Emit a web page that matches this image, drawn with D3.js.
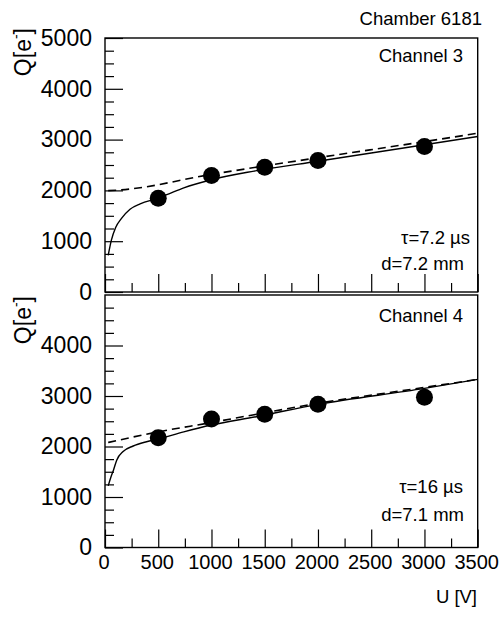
<!DOCTYPE html>
<html>
<head>
<meta charset="utf-8">
<script src="https://cdn.jsdelivr.net/npm/d3@7"></script>
<style>
  body { margin: 0; background: #fff; }
  text { font-family: "Liberation Sans", Arial, sans-serif; fill: #000; }
</style>
</head>
<body>
<script>
// Chart size
const width = 500;
const height = 620;

// Measured points (U in V, Q in electrons)
var voltage = [500, 1000, 1500, 2000, 3000];
var ch3Charge = [1846, 2292, 2457, 2587, 2863];
var ch4Charge = [2175, 2545, 2637, 2835, 2974];

// Solid curves
var ch3SolidU = [30, 60, 100, 155, 235, 330, 500, 580, 740, 1000, 1400, 2000, 2500, 3000, 3500];
var ch3SolidQ = [720, 1020, 1270, 1450, 1630, 1735, 1850, 1915, 2050, 2210, 2380, 2575, 2737, 2898, 3060];
var ch4SolidU = [30, 55, 80, 110, 170, 265, 390, 500, 740, 1000, 1420, 2000, 3000, 3500];
var ch4SolidQ = [1220, 1390, 1535, 1730, 1900, 2010, 2095, 2150, 2290, 2425, 2590, 2835, 3150, 3330];

// Dashed lines
var ch3DashU = [30, 150, 1000, 2000, 3000, 3500];
var ch3DashQ = [1995, 2010, 2315, 2644, 2960, 3125];
var ch4DashU = [30, 500, 1000, 1400, 2000, 3000, 3500];
var ch4DashQ = [2080, 2290, 2475, 2630, 2855, 3170, 3330];

// Ticks
var xMajor = [0, 500, 1000, 1500, 2000, 2500, 3000, 3500];
var xMinor = [250, 750, 1250, 1750, 2250, 2750, 3250];
var yMajorTop = [0, 1000, 2000, 3000, 4000, 5000];
var yMajorBottom = [0, 1000, 2000, 3000, 4000];
var yMinor = d3.range(250, 5000, 250).filter(d => d % 1000 !== 0);

var svg = d3.select("body")
    .append("svg")
    .attr("width", width)
    .attr("height", height);

// Scales
var x = d3.scaleLinear().domain([0, 3500]).range([105, 477.7]);
var yTop = d3.scaleLinear().domain([0, 5000]).range([292, 38]);
var yBottom = d3.scaleLinear().domain([0, 5000]).range([547.5, 295]);

function panel(y, yMajor, showXLabels, pts, solidU, solidQ, dashU, dashQ) {
    var g = svg.append("g");

    // y axis, ticks pointing inside
    g.append("g")
        .attr("transform", `translate(${x(0)}, 0)`)
        .call(d3.axisLeft(y).tickValues(yMinor).tickSize(-9).tickFormat(""))
        .call(a => a.select(".domain").remove());
    g.append("g")
        .attr("transform", `translate(${x(0)}, 0)`)
        .call(d3.axisLeft(y).tickValues(yMajor).tickSize(-18).tickPadding(13).tickFormat(d3.format("d")))
        .call(a => a.select(".domain").remove())
        .call(a => a.selectAll("text").attr("font-size", 23).attr("font-family", "Liberation Sans, Arial, sans-serif"));

    // x axis at the bottom, ticks pointing up
    var y0 = y(0);
    g.append("g")
        .attr("transform", `translate(0, ${y0})`)
        .call(d3.axisBottom(x).tickValues(xMinor).tickSize(-9).tickFormat(""))
        .call(a => a.select(".domain").remove());
    g.append("g")
        .attr("transform", `translate(0, ${y0})`)
        .call(d3.axisBottom(x).tickValues(xMajor).tickSize(-18).tickPadding(7)
            .tickFormat(showXLabels ? d3.format("d") : ""))
        .call(a => a.select(".domain").remove())
        .call(a => a.selectAll("text").attr("font-size", 20).attr("dx", -1.5)
            .attr("font-family", "Liberation Sans, Arial, sans-serif"));

    g.selectAll(".tick line").attr("stroke", "#000").attr("stroke-width", 1.2);

    // frame
    g.append("rect")
        .attr("x", x(0))
        .attr("y", y(5000))
        .attr("width", x(3500) - x(0))
        .attr("height", y(0) - y(5000))
        .attr("fill", "none")
        .attr("stroke", "#000")
        .attr("stroke-width", 1.4);

    var line = d3.line()
        .x(d => x(d[0]))
        .y(d => y(d[1]))
        .curve(d3.curveMonotoneX);

    g.append("path")
        .datum(dashU.map((u, i) => [u, dashQ[i]]))
        .attr("d", line)
        .attr("fill", "none")
        .attr("stroke", "#000")
        .attr("stroke-width", 1.6)
        .attr("stroke-dasharray", "8,5");

    g.append("path")
        .datum(solidU.map((u, i) => [u, solidQ[i]]))
        .attr("d", line)
        .attr("fill", "none")
        .attr("stroke", "#000")
        .attr("stroke-width", 1.4);

    g.selectAll("circle")
        .data(voltage.map((u, i) => [u, pts[i]]))
        .enter()
        .append("circle")
        .attr("cx", d => x(d[0]))
        .attr("cy", d => y(d[1]))
        .attr("r", 8.5)
        .attr("fill", "#000");

    return g;
}

panel(yTop, yMajorTop, false, ch3Charge, ch3SolidU, ch3SolidQ, ch3DashU, ch3DashQ);
panel(yBottom, yMajorBottom, true, ch4Charge, ch4SolidU, ch4SolidQ, ch4DashU, ch4DashQ);

// Y axis titles
function yTitle(yEnd) {
    var t = svg.append("text")
        .attr("transform", `translate(31, ${yEnd}) rotate(-90)`)
        .attr("text-anchor", "end")
        .attr("font-size", 23);
    t.append("tspan").text("Q[e");
    t.append("tspan").attr("font-size", 14).attr("dy", -10).text("-");
    t.append("tspan").attr("dy", 10).text("]");
}
yTitle(28);
yTitle(296);

// Labels
function label(txt, xPos, yPos) {
    svg.append("text")
        .attr("x", xPos)
        .attr("y", yPos)
        .attr("text-anchor", "end")
        .attr("font-size", 18.5)
        .text(txt);
}
label("Chamber 6181", 482, 25);
label("Channel 3", 463, 62);
label("\u03c4=7.2 \u00b5s", 470, 244);
label("d=7.2 mm", 464, 270);
label("Channel 4", 463, 322);
label("\u03c4=16 \u00b5s", 463, 493);
label("d=7.1 mm", 464, 521);
label("U [V]", 477, 603);
</script>
</body>
</html>
